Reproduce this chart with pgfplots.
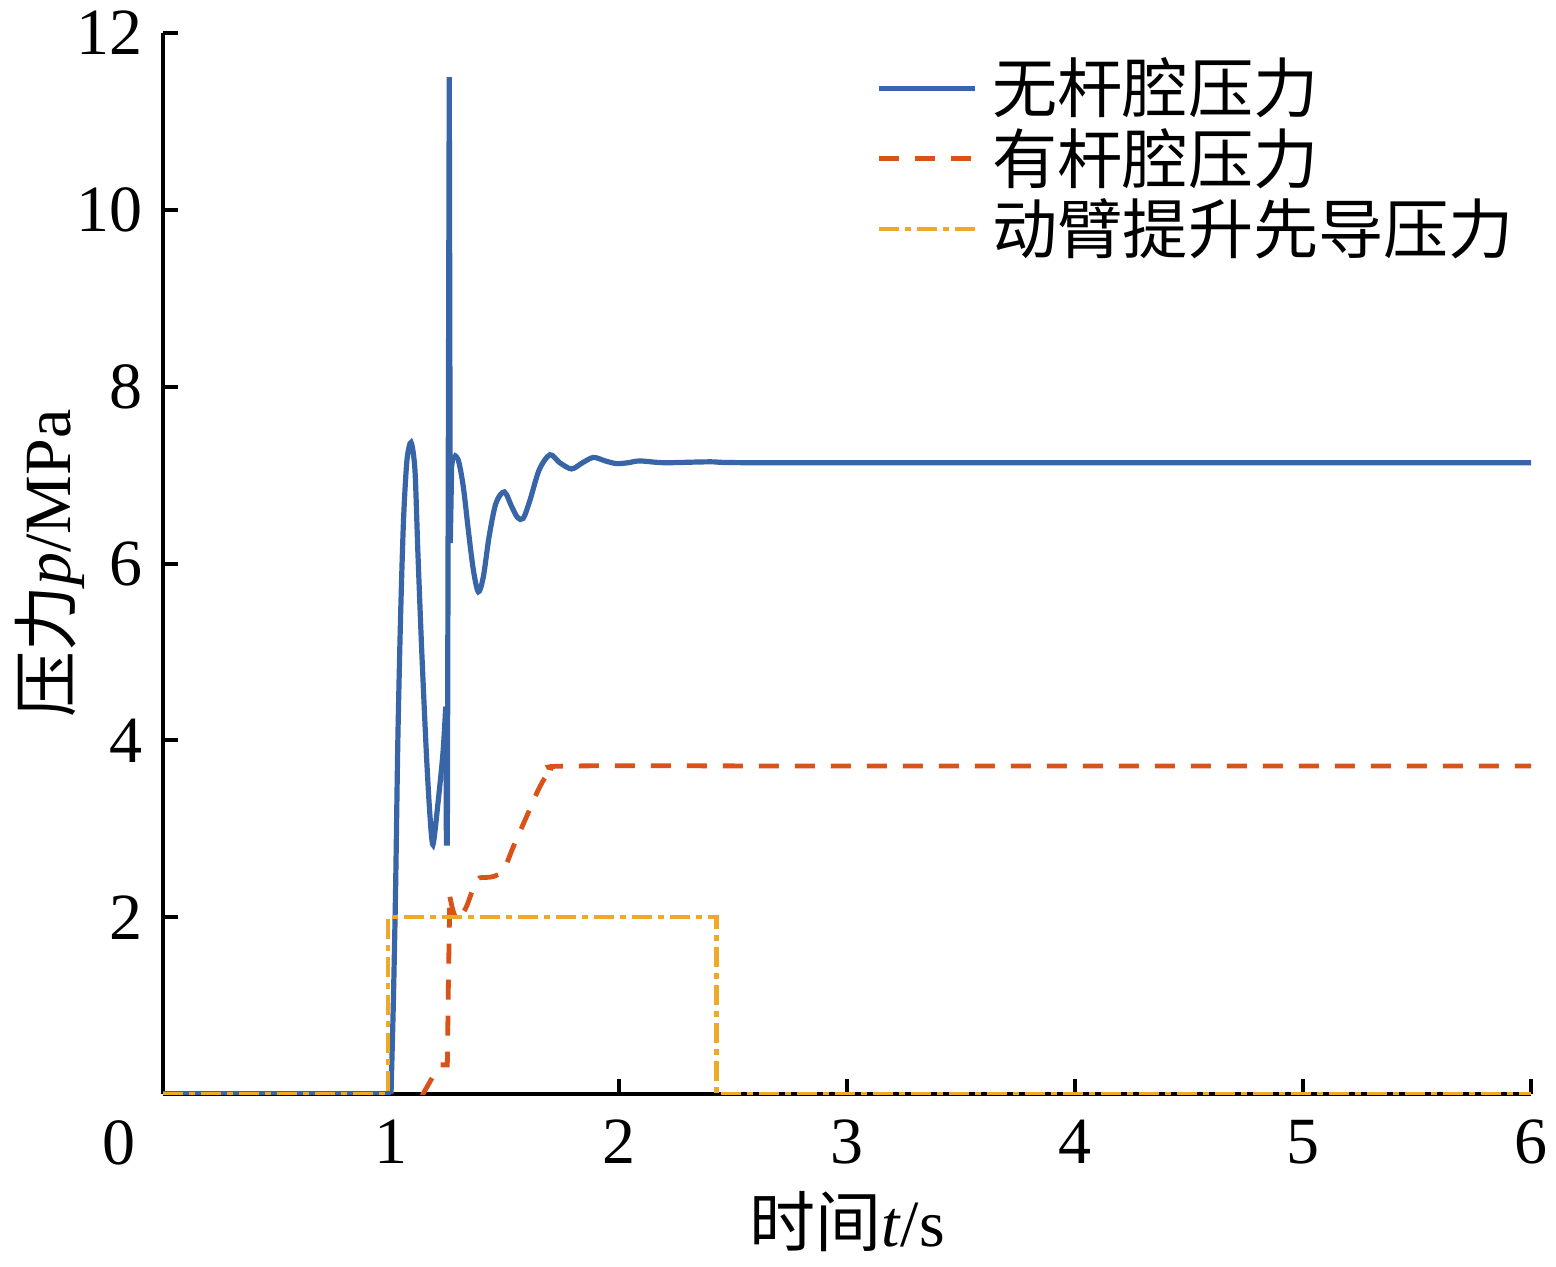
\documentclass[border=0pt]{standalone}
\usepackage{fontspec}
\setmainfont{Liberation Serif}
\newfontfamily\cjk{Noto Sans CJK SC}
\usepackage{pgfplots}
\pgfplotsset{compat=1.18}
\definecolor{cblue}{RGB}{56,100,168}
\definecolor{cred}{RGB}{217,83,25}
\definecolor{cyel}{RGB}{236,170,40}
\begin{document}
\begin{tikzpicture}
\begin{axis}[
  scale only axis,
  width=342pt, height=265.25pt,
  xmin=0, xmax=6, ymin=0, ymax=12,
  axis x line*=bottom, axis y line*=left,
  axis line style={line width=1pt, black},
  tick align=inside,
  major tick length=3.75pt,
  tick style={line width=1pt, black},
  xtick={1,2,3,4,5,6},
  ytick={2,4,6,8,10,12},
  /pgf/number format/assume math mode=true,
  tick label style={font=\fontsize{16.5}{19}\selectfont},
  yticklabel style={xshift=-1.5pt},
  xticklabel style={yshift=-3pt},
  xlabel={{\cjk 时间}\textit{t}/s},
  ylabel={{\cjk 压力}\textit{p}/MPa},
  label style={font=\fontsize{16.5}{19}\selectfont},
  xlabel style={at={(axis description cs:0.5,-0.1206)}, anchor=center},
  ylabel style={at={(axis description cs:-0.0826,0.5)}, anchor=center},
  legend style={at={(0.521,0.982)}, anchor=north west, draw=none, fill=none,
    font=\fontsize{16.3}{19}\selectfont\cjk, row sep=0pt, inner sep=0pt,
    nodes={inner sep=1.2pt}},
  legend cell align=left,
  legend image code/.code={\draw[#1] (0pt,0pt) -- (24pt,0pt);},
  /tikz/every odd column/.append style={column sep=2.5pt},
]
% blue: flat part (legend carrier)
\addplot[cblue, line width=1.3pt] coordinates {(0,0) (1.000,0)};
\addlegendentry{无杆腔压力}
\addplot[cblue, line width=1.3pt, smooth, tension=0.45, forget plot] coordinates {
(1.000,0) (1.010,1.0) (1.020,2.3) (1.030,4.0) (1.042,5.4) (1.055,6.5)
(1.070,7.17) (1.088,7.37) (1.105,7.06) (1.118,6.12) (1.135,5.0)
(1.155,3.86) (1.170,3.18) (1.184,2.82) (1.206,3.29) (1.228,3.86)
(1.240,4.38)
};
\addplot[cblue, line width=1.3pt, forget plot] coordinates {
(1.240,4.38) (1.243,2.84) (1.247,2.84) (1.2555,11.5) (1.260,6.23) (1.266,7.10) (1.273,7.23)
};
\addplot[cblue, line width=1.3pt, smooth, tension=0.5, forget plot] coordinates {
(1.273,7.23) (1.295,7.17) (1.317,6.87) (1.339,6.38) (1.361,5.93)
(1.383,5.68) (1.405,5.85) (1.430,6.30) (1.460,6.68)
(1.497,6.81) (1.530,6.64) (1.555,6.52) (1.580,6.51)
(1.610,6.72) (1.650,7.06) (1.697,7.23)
(1.740,7.14) (1.792,7.07) (1.840,7.14)
(1.888,7.20) (1.940,7.16) (1.989,7.13) (2.040,7.14)
(2.092,7.16) (2.200,7.14) (2.400,7.15) (2.600,7.14) (4.000,7.14) (6.000,7.14)
};
% red
\addplot[cred, line width=1.2pt, dash pattern=on 5pt off 4pt] coordinates {
(1.00,-0.75) (1.14,0) (1.180,0.18) (1.215,0.33) (1.247,0.33) (1.252,1.3)
(1.258,2.23)
};
\addlegendentry{有杆腔压力}
\addplot[cred, line width=1.2pt, dash pattern=on 5pt off 4pt, smooth, tension=0.5, forget plot] coordinates {
(1.258,2.23) (1.275,2.05) (1.295,1.97) (1.331,2.12) (1.376,2.42) (1.420,2.45)
(1.449,2.46) (1.493,2.53) (1.537,2.80) (1.595,3.14) (1.646,3.44) (1.682,3.60)
(1.720,3.67) (1.785,3.71) (3.0,3.71) (6.0,3.71)
};
% yellow
\addplot[cyel, line width=1.1pt, dash pattern=on 5pt off 1.5pt on 1.5pt off 1.5pt] coordinates {
(0,0) (0.988,0) (0.988,2) (2.428,2) (2.428,0) (6,0)
};
\addlegendentry{动臂提升先导压力}
\coordinate (ll) at (rel axis cs:0,0);
\coordinate (ur) at (rel axis cs:1,1);
\end{axis}
\node[anchor=north, font=\fontsize{16.5}{19}\selectfont, xshift=-11pt, yshift=-3pt, inner sep=.3333em] at (ll) {0};
\pgfresetboundingbox
\path[use as bounding box] ([shift={(-40.75pt,-43pt)}]ll) rectangle ([shift={(6.25pt,8.25pt)}]ur);
\end{tikzpicture}
\end{document}
